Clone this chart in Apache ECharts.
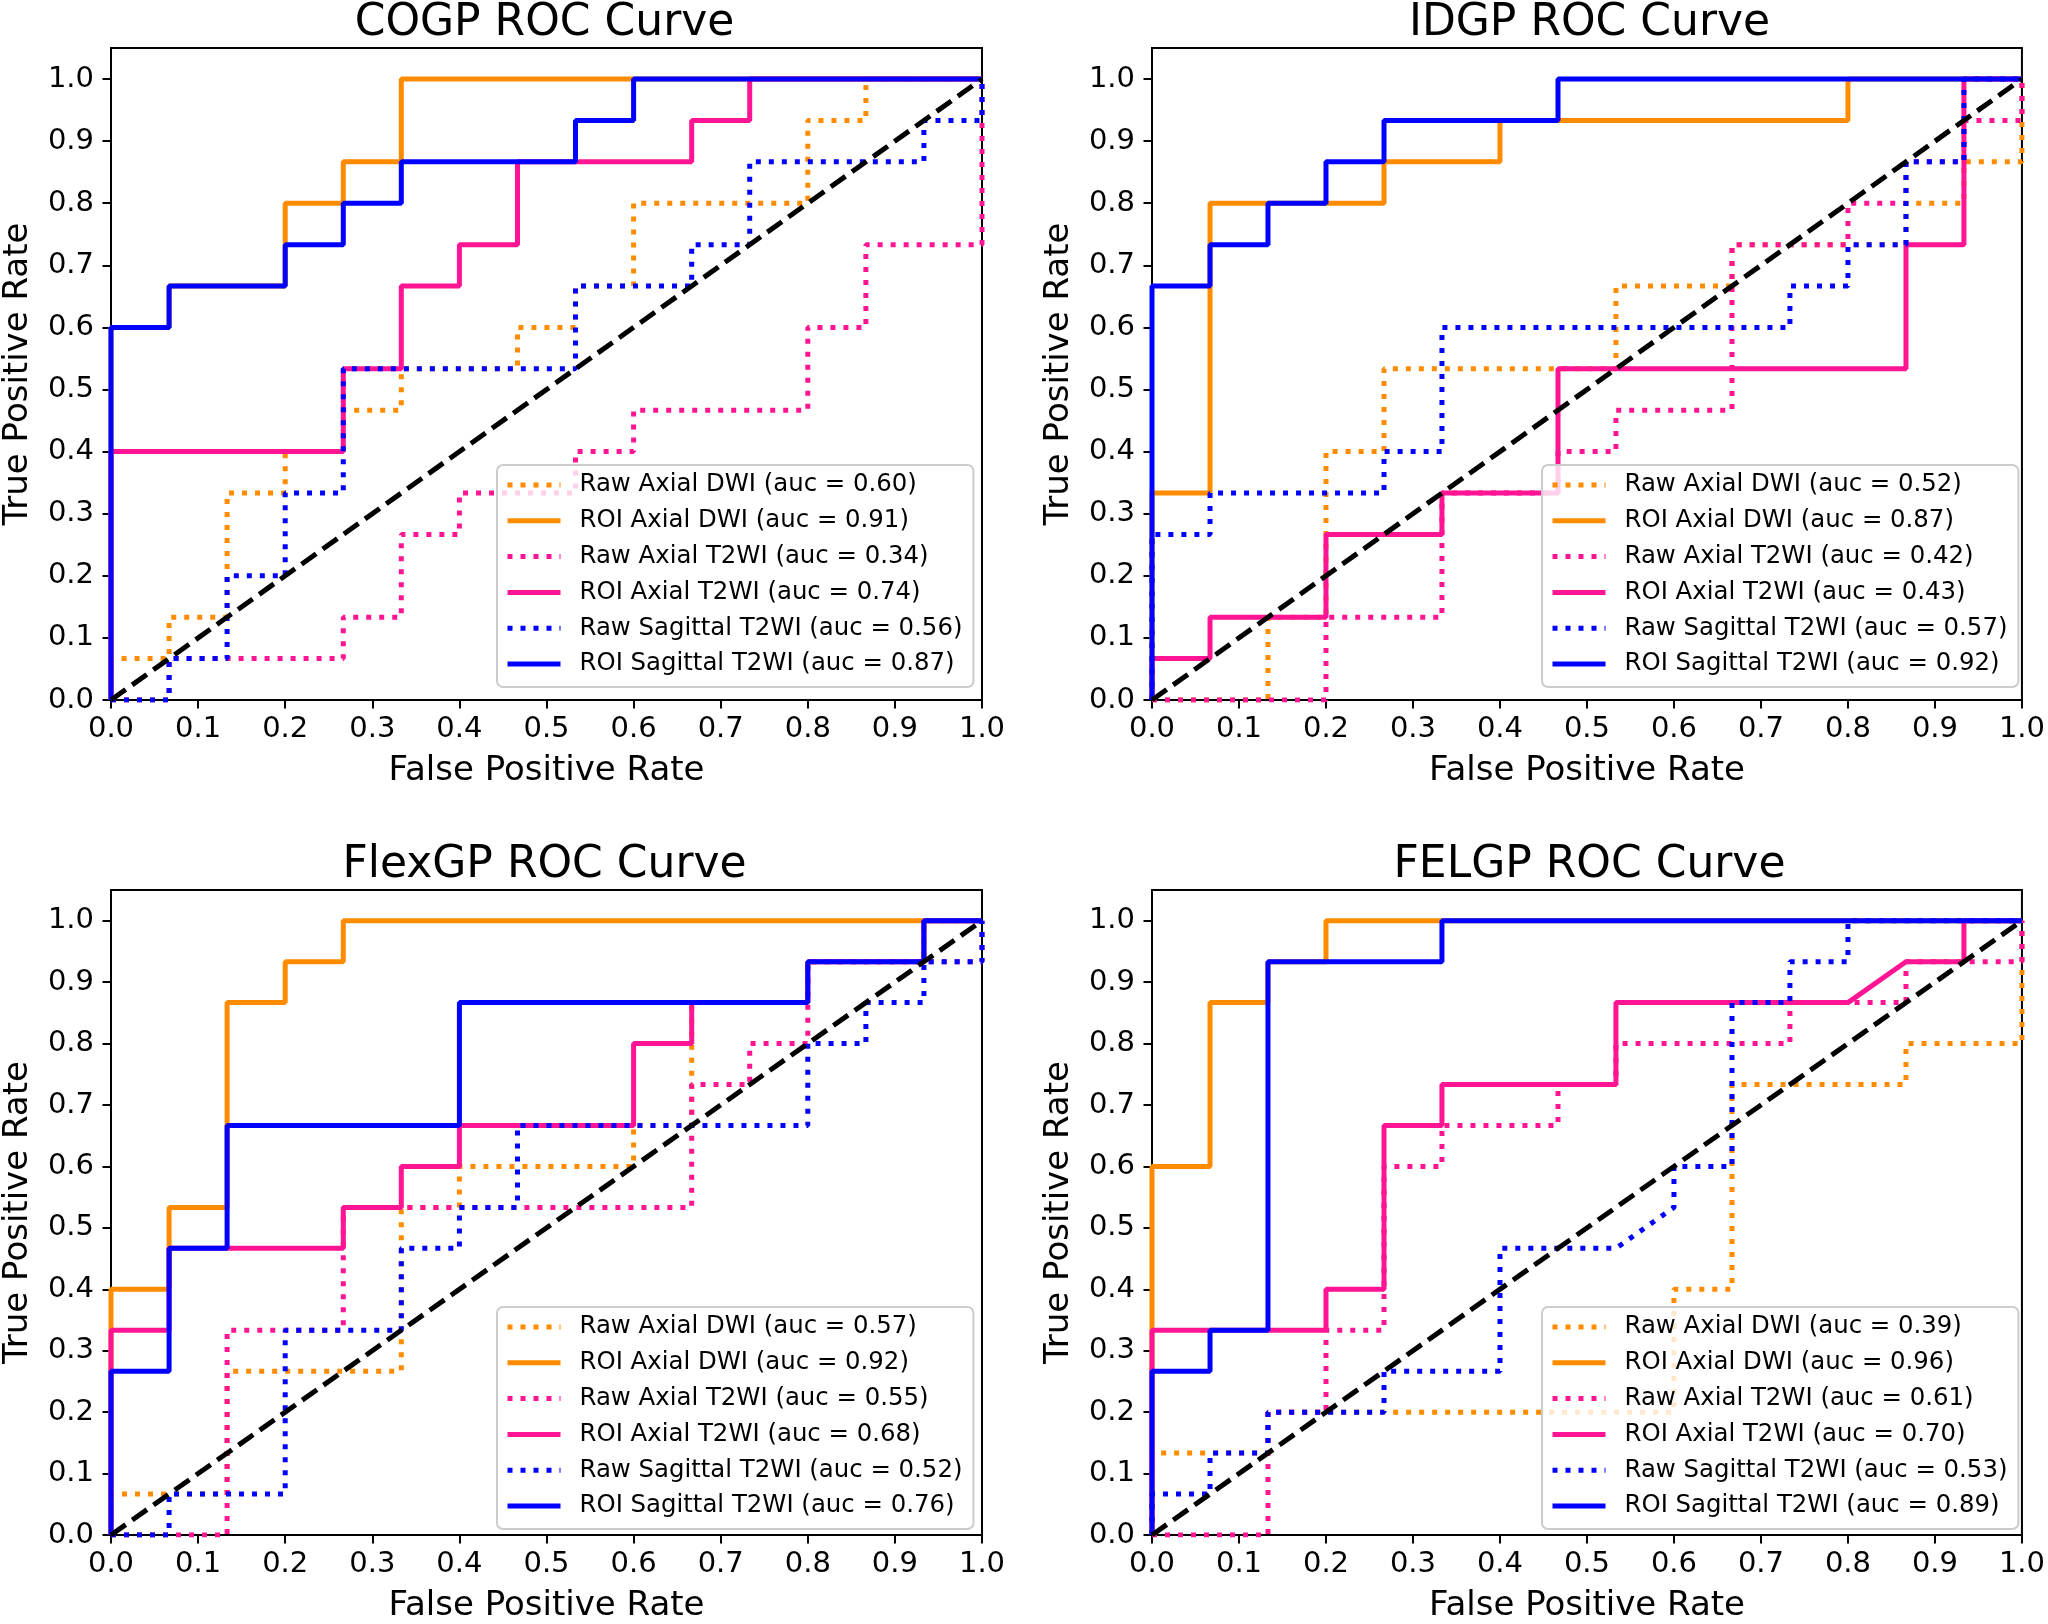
<!DOCTYPE html>
<html><head><meta charset="utf-8">
<script src="https://cdn.jsdelivr.net/npm/echarts@6/dist/echarts.min.js"></script>
<style>html,body{margin:0;padding:0;background:#fff}#c{width:2048px;height:1624px}</style>
</head><body><div id="c"></div>
<script>
// ---------- DATA ----------
const panelTitles = ['COGP ROC Curve', 'IDGP ROC Curve', 'FlexGP ROC Curve', 'FELGP ROC Curve'];
const modalities = ['Raw Axial DWI', 'ROI Axial DWI', 'Raw Axial T2WI', 'ROI Axial T2WI', 'Raw Sagittal T2WI', 'ROI Sagittal T2WI'];
const cogpAuc = ['0.60', '0.91', '0.34', '0.74', '0.56', '0.87'];
const idgpAuc = ['0.52', '0.87', '0.42', '0.43', '0.57', '0.92'];
const flexAuc = ['0.57', '0.92', '0.55', '0.68', '0.52', '0.76'];
const felAuc  = ['0.39', '0.96', '0.61', '0.70', '0.53', '0.89'];
const xTicks = [0, 0.1, 0.2, 0.3, 0.4, 0.5, 0.6, 0.7, 0.8, 0.9, 1.0];
const yTicks = [0, 0.1, 0.2, 0.3, 0.4, 0.5, 0.6, 0.7, 0.8, 0.9, 1.0];
const diagonal = [[0, 0], [1, 1]];

// COGP  (points: [FPR, TPR])
const cogpRawDWI = [[0,0],[0,0.0667],[0.0667,0.0667],[0.0667,0.1333],[0.1333,0.1333],[0.1333,0.3333],[0.2,0.3333],[0.2,0.4],[0.2667,0.4],[0.2667,0.4667],[0.3333,0.4667],[0.3333,0.5333],[0.4667,0.5333],[0.4667,0.6],[0.5333,0.6],[0.5333,0.6667],[0.6,0.6667],[0.6,0.8],[0.8,0.8],[0.8,0.9333],[0.8667,0.9333],[0.8667,1],[1,1]];
const cogpRoiDWI = [[0,0],[0,0.6],[0.0667,0.6],[0.0667,0.6667],[0.2,0.6667],[0.2,0.8],[0.2667,0.8],[0.2667,0.8667],[0.3333,0.8667],[0.3333,1],[1,1]];
const cogpRawT2 = [[0,0],[0.0667,0],[0.0667,0.0667],[0.2667,0.0667],[0.2667,0.1333],[0.3333,0.1333],[0.3333,0.2667],[0.4,0.2667],[0.4,0.3333],[0.5333,0.3333],[0.5333,0.4],[0.6,0.4],[0.6,0.4667],[0.8,0.4667],[0.8,0.6],[0.8667,0.6],[0.8667,0.7333],[1,0.7333],[1,1]];
const cogpRoiT2 = [[0,0],[0,0.4],[0.2667,0.4],[0.2667,0.5333],[0.3333,0.5333],[0.3333,0.6667],[0.4,0.6667],[0.4,0.7333],[0.4667,0.7333],[0.4667,0.8667],[0.6667,0.8667],[0.6667,0.9333],[0.7333,0.9333],[0.7333,1],[1,1]];
const cogpRawSag = [[0,0],[0.0667,0],[0.0667,0.0667],[0.1333,0.0667],[0.1333,0.2],[0.2,0.2],[0.2,0.3333],[0.2667,0.3333],[0.2667,0.5333],[0.5333,0.5333],[0.5333,0.6667],[0.6667,0.6667],[0.6667,0.7333],[0.7333,0.7333],[0.7333,0.8667],[0.9333,0.8667],[0.9333,0.9333],[1,0.9333],[1,1]];
const cogpRoiSag = [[0,0],[0,0.6],[0.0667,0.6],[0.0667,0.6667],[0.2,0.6667],[0.2,0.7333],[0.2667,0.7333],[0.2667,0.8],[0.3333,0.8],[0.3333,0.8667],[0.5333,0.8667],[0.5333,0.9333],[0.6,0.9333],[0.6,1],[1,1]];

// IDGP
const idgpRawDWI = [[0,0],[0.1333,0],[0.1333,0.1333],[0.2,0.1333],[0.2,0.4],[0.2667,0.4],[0.2667,0.5333],[0.5333,0.5333],[0.5333,0.6667],[0.6667,0.6667],[0.6667,0.7333],[0.8667,0.7333],[0.8667,0.8],[0.9333,0.8],[0.9333,0.8667],[1,0.8667],[1,1]];
const idgpRoiDWI = [[0,0],[0,0.3333],[0.0667,0.3333],[0.0667,0.8],[0.2667,0.8],[0.2667,0.8667],[0.4,0.8667],[0.4,0.9333],[0.8,0.9333],[0.8,1],[1,1]];
const idgpRawT2 = [[0,0],[0.2,0],[0.2,0.1333],[0.3333,0.1333],[0.3333,0.3333],[0.4667,0.3333],[0.4667,0.4],[0.5333,0.4],[0.5333,0.4667],[0.6667,0.4667],[0.6667,0.7333],[0.8,0.7333],[0.8,0.8],[0.8667,0.8],[0.8667,0.8667],[0.9333,0.8667],[0.9333,0.9333],[1,0.9333],[1,1]];
const idgpRoiT2 = [[0,0],[0,0.0667],[0.0667,0.0667],[0.0667,0.1333],[0.2,0.1333],[0.2,0.2667],[0.3333,0.2667],[0.3333,0.3333],[0.4667,0.3333],[0.4667,0.5333],[0.8667,0.5333],[0.8667,0.7333],[0.9333,0.7333],[0.9333,1],[1,1]];
const idgpRawSag = [[0,0],[0,0.2667],[0.0667,0.2667],[0.0667,0.3333],[0.2667,0.3333],[0.2667,0.4],[0.3333,0.4],[0.3333,0.6],[0.7333,0.6],[0.7333,0.6667],[0.8,0.6667],[0.8,0.7333],[0.8667,0.7333],[0.8667,0.8667],[0.9333,0.8667],[0.9333,1],[1,1]];
const idgpRoiSag = [[0,0],[0,0.6667],[0.0667,0.6667],[0.0667,0.7333],[0.1333,0.7333],[0.1333,0.8],[0.2,0.8],[0.2,0.8667],[0.2667,0.8667],[0.2667,0.9333],[0.4667,0.9333],[0.4667,1],[1,1]];

// FlexGP
const flexRawDWI = [[0,0],[0,0.0667],[0.1333,0.0667],[0.1333,0.2667],[0.3333,0.2667],[0.3333,0.5333],[0.4,0.5333],[0.4,0.6],[0.6,0.6],[0.6,0.6667],[0.6667,0.6667],[0.6667,0.8667],[0.8,0.8667],[0.8,0.9333],[0.9333,0.9333],[0.9333,1],[1,1]];
const flexRoiDWI = [[0,0],[0,0.4],[0.0667,0.4],[0.0667,0.5333],[0.1333,0.5333],[0.1333,0.8667],[0.2,0.8667],[0.2,0.9333],[0.2667,0.9333],[0.2667,1],[1,1]];
const flexRawT2 = [[0,0],[0.1333,0],[0.1333,0.3333],[0.2667,0.3333],[0.2667,0.5333],[0.6667,0.5333],[0.6667,0.7333],[0.7333,0.7333],[0.7333,0.8],[0.8,0.8],[0.8,0.9333],[1,0.9333],[1,1]];
const flexRoiT2 = [[0,0],[0,0.3333],[0.0667,0.3333],[0.0667,0.4667],[0.2667,0.4667],[0.2667,0.5333],[0.3333,0.5333],[0.3333,0.6],[0.4,0.6],[0.4,0.6667],[0.6,0.6667],[0.6,0.8],[0.6667,0.8],[0.6667,0.8667],[0.8,0.8667],[0.8,0.9333],[0.9333,0.9333],[0.9333,1],[1,1]];
const flexRawSag = [[0,0],[0.0667,0],[0.0667,0.0667],[0.2,0.0667],[0.2,0.3333],[0.3333,0.3333],[0.3333,0.4667],[0.4,0.4667],[0.4,0.5333],[0.4667,0.5333],[0.4667,0.6667],[0.8,0.6667],[0.8,0.8],[0.8667,0.8],[0.8667,0.8667],[0.9333,0.8667],[0.9333,0.9333],[1,0.9333],[1,1]];
const flexRoiSag = [[0,0],[0,0.2667],[0.0667,0.2667],[0.0667,0.4667],[0.1333,0.4667],[0.1333,0.6667],[0.4,0.6667],[0.4,0.8667],[0.8,0.8667],[0.8,0.9333],[0.9333,0.9333],[0.9333,1],[1,1]];

// FELGP
const felRawDWI = [[0,0],[0,0.1333],[0.1333,0.1333],[0.1333,0.2],[0.6,0.2],[0.6,0.4],[0.6667,0.4],[0.6667,0.7333],[0.8667,0.7333],[0.8667,0.8],[1,0.8],[1,1]];
const felRoiDWI = [[0,0],[0,0.6],[0.0667,0.6],[0.0667,0.8667],[0.1333,0.8667],[0.1333,0.9333],[0.2,0.9333],[0.2,1],[1,1]];
const felRawT2 = [[0,0],[0.1333,0],[0.1333,0.2],[0.2,0.2],[0.2,0.3333],[0.2667,0.3333],[0.2667,0.6],[0.3333,0.6],[0.3333,0.6667],[0.4667,0.6667],[0.4667,0.7333],[0.5333,0.7333],[0.5333,0.8],[0.7333,0.8],[0.7333,0.8667],[0.8667,0.8667],[0.8667,0.9333],[1,0.9333],[1,1]];
const felRoiT2 = [[0,0],[0,0.3333],[0.2,0.3333],[0.2,0.4],[0.2667,0.4],[0.2667,0.6667],[0.3333,0.6667],[0.3333,0.7333],[0.5333,0.7333],[0.5333,0.8667],[0.8,0.8667],[0.8667,0.9333],[0.9333,0.9333],[0.9333,1],[1,1]];
const felRawSag = [[0,0],[0,0.0667],[0.0667,0.0667],[0.0667,0.1333],[0.1333,0.1333],[0.1333,0.2],[0.2667,0.2],[0.2667,0.2667],[0.4,0.2667],[0.4,0.4667],[0.5333,0.4667],[0.6,0.5333],[0.6,0.6],[0.6667,0.6],[0.6667,0.8667],[0.7333,0.8667],[0.7333,0.9333],[0.8,0.9333],[0.8,1],[1,1]];
const felRoiSag = [[0,0],[0,0.2667],[0.0667,0.2667],[0.0667,0.3333],[0.1333,0.3333],[0.1333,0.9333],[0.3333,0.9333],[0.3333,1],[1,1]];

// ---------- LAYOUT / STYLE ----------
const FONT = 'DejaVu Sans';
const ORANGE = '#ff8c00', PINK = '#ff1493', BLUE = '#0000ff';
const LW = 5;
const DOT = [5, 8];
const curveStyles = [
  {color: ORANGE, type: DOT}, {color: ORANGE, type: 'solid'},
  {color: PINK, type: DOT},   {color: PINK, type: 'solid'},
  {color: BLUE, type: DOT},   {color: BLUE, type: 'solid'}
];
const panels = [
  {curves: [cogpRawDWI, cogpRoiDWI, cogpRawT2, cogpRoiT2, cogpRawSag, cogpRoiSag], auc: cogpAuc},
  {curves: [idgpRawDWI, idgpRoiDWI, idgpRawT2, idgpRoiT2, idgpRawSag, idgpRoiSag], auc: idgpAuc},
  {curves: [flexRawDWI, flexRoiDWI, flexRawT2, flexRoiT2, flexRawSag, flexRoiSag], auc: flexAuc},
  {curves: [felRawDWI, felRoiDWI, felRawT2, felRoiT2, felRawSag, felRoiSag], auc: felAuc}
];
const boxes = [
  {left: 107, top: 48, width: 875, height: 652},
  {left: 1152, top: 48, width: 875, height: 652},
  {left: 107, top: 890, width: 875, height: 651},
  {left: 1152, top: 890, width: 875, height: 651}
];

const grid = [], xAxis = [], yAxis = [], series = [], legend = [], title = [];
boxes.forEach((b, i) => {
  grid.push({left: b.left, top: b.top, width: b.width, height: b.height, show: true,
    borderColor: '#000', borderWidth: 2, backgroundColor: 'transparent', containLabel: false});
  const tickStyle = {show: true, inside: false, length: 8.5, lineStyle: {color: '#000', width: 2}};
  xAxis.push({type: 'value', gridIndex: i, min: 0, max: 1, interval: 0.1,
    name: 'False Positive Rate', nameLocation: 'middle', nameGap: 54,
    nameTextStyle: {fontFamily: FONT, fontSize: 34, color: '#000'},
    axisLine: {show: true, lineStyle: {color: '#000', width: 2}},
    axisTick: Object.assign({customValues: xTicks}, tickStyle), splitLine: {show: false},
    axisLabel: {fontFamily: FONT, fontSize: 29, color: '#000', margin: 15,
      customValues: xTicks, formatter: v => v.toFixed(1)}});
  yAxis.push({type: 'value', gridIndex: i, min: 0, max: 1.05, interval: 0.1,
    name: 'True Positive Rate', nameLocation: 'middle', nameGap: 76,
    nameTextStyle: {fontFamily: FONT, fontSize: 34, color: '#000'},
    axisLine: {show: true, lineStyle: {color: '#000', width: 2}},
    axisTick: Object.assign({customValues: yTicks}, tickStyle), splitLine: {show: false},
    axisLabel: {fontFamily: FONT, fontSize: 29, color: '#000', margin: 17,
      customValues: yTicks, formatter: v => v.toFixed(1)}});
  title.push({text: panelTitles[i], left: b.left + b.width / 2, textAlign: 'center',
    top: b.top - 46, padding: 0,
    textStyle: {fontFamily: FONT, fontSize: 44, fontWeight: 'normal', color: '#000'}});
  const names = [];
  panels[i].curves.forEach((pts, k) => {
    const nm = modalities[k] + ' (auc = ' + panels[i].auc[k] + ')';
    names.push(nm);
    series.push({type: 'line', name: nm, xAxisIndex: i, yAxisIndex: i, data: pts,
      symbol: 'none', showSymbol: false, silent: true, animation: false,
      lineStyle: {color: curveStyles[k].color, width: LW, type: curveStyles[k].type, cap: 'butt'},
      itemStyle: {color: curveStyles[k].color},
      emphasis: {disabled: true}});
  });
  series.push({type: 'line', name: 'chance' + i, xAxisIndex: i, yAxisIndex: i, data: diagonal,
    symbol: 'none', silent: true, animation: false,
    lineStyle: {color: '#000', width: 5, type: [18, 8], cap: 'butt'},
    emphasis: {disabled: true}});
  legend.push({data: names, orient: 'vertical', left: b.left + 390, top: b.top + 417,
    itemWidth: 53, itemHeight: 24, itemGap: 11.8, align: 'left',
    padding: [8, 11, 11, 8], backgroundColor: 'rgba(255,255,255,0.8)',
    borderColor: '#cccccc', borderWidth: 2, borderRadius: 6,
    selectedMode: false,
    itemStyle: {opacity: 0},
    lineStyle: {width: LW, cap: 'butt'},
    textStyle: {fontFamily: FONT, fontSize: 24.4, color: '#000', lineHeight: 24, padding: [0, 0, 0, 14]}});
});

const chart = echarts.init(document.getElementById('c'), null, {renderer: 'canvas'});
chart.setOption({backgroundColor: '#fff', animation: false, title, grid, xAxis, yAxis, legend, series});
</script></body></html>
